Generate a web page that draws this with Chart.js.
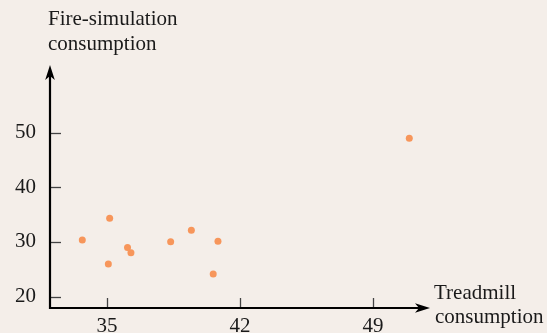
<!DOCTYPE html>
<html><head><meta charset="utf-8">
<script src="https://cdn.jsdelivr.net/npm/chart.js@4"></script>
<style>html,body{margin:0;padding:0;background:#f4eee9;}#wrap{width:547px;height:333px;}</style>
</head><body><div id="wrap"><canvas id="c" width="547" height="333"></canvas></div>
<script>
const treadmill = [33.70, 35.14, 35.07, 36.08, 36.26, 38.35, 39.44, 40.84, 40.59, 50.91];
const fireSim   = [30.37, 34.34, 25.97, 28.96, 28.04, 30.05, 32.14, 30.13, 24.14, 48.98];
const xTicks = [35, 42, 49];
const yTicks = [20, 30, 40, 50];
const xTitle = ['Treadmill', 'consumption'];
const yTitle = ['Fire-simulation', 'consumption'];

const FONT = "'Liberation Serif', 'DejaVu Serif', serif";

const axesPlugin = {
  id: 'axesPlugin',
  beforeDraw(chart) {
    const ctx = chart.ctx;
    ctx.save();
    ctx.fillStyle = '#f4eee9';
    ctx.fillRect(0, 0, chart.width, chart.height);
    ctx.restore();
  },
  afterDraw(chart) {
    const ctx = chart.ctx;
    const a = chart.chartArea;
    const xs = chart.scales.x, ys = chart.scales.y;
    ctx.save();
    ctx.strokeStyle = '#444';
    ctx.lineWidth = 1.3;
    yTicks.forEach(v => {
      const y = Math.round(ys.getPixelForValue(v)) + 0.5;
      ctx.beginPath(); ctx.moveTo(a.left, y); ctx.lineTo(a.left + 11, y); ctx.stroke();
    });
    xTicks.forEach(v => {
      const x = Math.round(xs.getPixelForValue(v)) + 0.5;
      ctx.beginPath(); ctx.moveTo(x, a.bottom); ctx.lineTo(x, a.bottom - 10); ctx.stroke();
    });
    ctx.strokeStyle = '#000';
    ctx.fillStyle = '#000';
    ctx.lineWidth = 2.2;
    ctx.beginPath();
    ctx.moveTo(a.left, a.top + 8);
    ctx.lineTo(a.left, a.bottom);
    ctx.lineTo(a.right - 8, a.bottom);
    ctx.stroke();
    ctx.beginPath();
    ctx.moveTo(a.left, a.top);
    ctx.lineTo(a.left + 4.8, a.top + 15);
    ctx.lineTo(a.left, a.top + 11);
    ctx.lineTo(a.left - 4.8, a.top + 15);
    ctx.closePath(); ctx.fill();
    ctx.beginPath();
    ctx.moveTo(a.right, a.bottom);
    ctx.lineTo(a.right - 15, a.bottom - 4.8);
    ctx.lineTo(a.right - 11, a.bottom);
    ctx.lineTo(a.right - 15, a.bottom + 4.8);
    ctx.closePath(); ctx.fill();
    ctx.fillStyle = '#1a1a1a';
    ctx.font = '21px ' + FONT;
    ctx.textAlign = 'left';
    ctx.textBaseline = 'alphabetic';
    ctx.fillText(yTitle[0], a.left - 2, 25);
    ctx.fillText(yTitle[1], a.left - 2, 50);
    ctx.fillText(xTitle[0], a.right + 4, 299);
    ctx.fillText(xTitle[1], a.right + 5, 323);
    ctx.restore();
  }
};

new Chart(document.getElementById('c'), {
  type: 'scatter',
  data: {
    datasets: [{
      data: treadmill.map((x, i) => ({ x: x, y: fireSim[i] })),
      backgroundColor: '#f7965b',
      borderWidth: 0,
      pointRadius: 3.5,
      pointHoverRadius: 3.5
    }]
  },
  options: {
    responsive: false,
    devicePixelRatio: 1,
    animation: false,
    events: [],
    layout: { padding: { top: 65, right: 117, bottom: 0, left: 0 } },
    plugins: { legend: { display: false }, tooltip: { enabled: false }, title: { display: false } },
    scales: {
      x: {
        type: 'linear', min: 32, max: 52,
        afterBuildTicks: s => { s.ticks = xTicks.map(v => ({ value: v })); },
        afterFit: s => { s.height = 25; },
        grid: { display: false }, border: { display: false },
        ticks: { font: { family: FONT, size: 21 }, color: '#1a1a1a', padding: -2, maxRotation: 0, autoSkip: false }
      },
      y: {
        type: 'linear', min: 17.9, max: 62.4,
        afterBuildTicks: s => { s.ticks = yTicks.map(v => ({ value: v })); },
        afterFit: s => { s.width = 50; },
        grid: { display: false }, border: { display: false },
        ticks: { font: { family: FONT, size: 21 }, color: '#1a1a1a', padding: 6, autoSkip: false }
      }
    }
  },
  plugins: [axesPlugin]
});
</script></body></html>
